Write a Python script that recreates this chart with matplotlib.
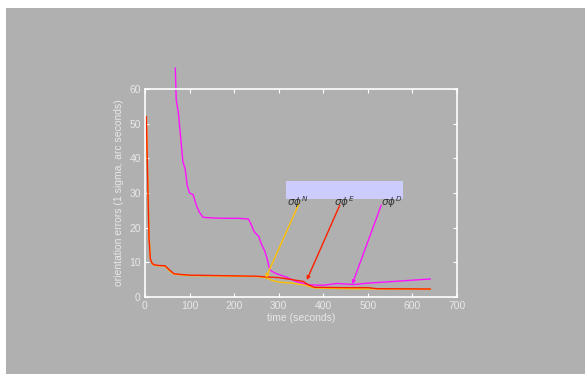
import matplotlib
matplotlib.use("Agg")
import matplotlib.pyplot as plt
from matplotlib.patches import Rectangle

# time (seconds) and 1-sigma orientation errors (arc seconds)
t_north = [3, 6, 9, 12, 16, 20, 30, 45, 55, 65, 80, 100, 150, 200, 250, 270, 285, 300, 330, 360, 380, 450, 520, 640]
s_north = [52, 35, 18, 11, 9.6, 9.2, 9.0, 8.9, 7.5, 6.6, 6.4, 6.2, 6.1, 6.0, 5.9, 5.6, 4.8, 4.3, 4.0, 3.4, 2.6, 2.4, 2.3, 2.2]

t_east = [3, 6, 9, 12, 16, 20, 30, 45, 55, 65, 80, 100, 150, 200, 250, 270, 300, 330, 355, 365, 380, 450, 500, 520, 640]
s_east = [52, 34, 17, 11, 9.7, 9.3, 9.1, 9.0, 7.8, 6.7, 6.5, 6.3, 6.2, 6.1, 6.0, 5.8, 5.6, 5.0, 4.5, 3.6, 2.8, 2.7, 2.7, 2.4, 2.3]

t_down = [68, 70, 75, 80, 85, 90, 95, 100, 108, 115, 122, 130, 150, 180, 210, 232, 238, 245, 255, 262, 268, 274, 280, 290, 300, 320, 340, 370, 400, 430, 470, 500, 560, 640]
s_down = [66, 57, 53, 46, 39, 37, 32, 30, 29.5, 26.5, 24.5, 23, 22.8, 22.7, 22.7, 22.5, 21, 18.8, 17.5, 15, 13.5, 11, 7.8, 7.0, 6.5, 5.6, 4.4, 3.5, 3.4, 3.9, 3.6, 4.0, 4.5, 5.2]

labels = [r"$\sigma\phi^N$", r"$\sigma\phi^E$", r"$\sigma\phi^D$"]
colors = ["#ffc000", "#ff2000", "#ff10ff"]
# where each label text starts, the top of its pointer line, and the curve point it hits
text_x = [318, 425, 529]
line_top = [(345, 26.8), (437, 26.5), (530, 26.5)]
point_xy = [(271, 5.5), (363, 4.9), (465, 3.7)]

bg = "#b0b0b0"
txt = "#e8e8e8"
plt.rcParams["font.family"] = ["Liberation Sans", "DejaVu Sans"]

fig = plt.figure(figsize=(5.85, 3.74), dpi=100)
fig.patch.set_facecolor("white")
fig.patches.append(Rectangle((6 / 585, 0), 1, (374 - 8) / 374, transform=fig.transFigure,
                             facecolor=bg, edgecolor="none", zorder=-10))

ax = fig.add_axes([145 / 585, 77 / 374, 312 / 585, 208 / 374])
ax.set_facecolor(bg)

ax.plot(t_north, s_north, color=colors[0], lw=1.0)
ax.plot(t_down, s_down, color=colors[2], lw=1.0, clip_on=False)
ax.plot(t_east, s_east, color=colors[1], lw=1.0)

ax.set_xlim(0, 700)
ax.set_ylim(0, 60)
ax.set_xticks(range(0, 701, 100))
ax.set_yticks(range(0, 61, 10))

for side in ax.spines.values():
    side.set_color("white")
    side.set_linewidth(1.2)
ax.tick_params(direction="in", length=3, color="white", labelcolor=txt, labelsize=7.5,
               top=True, right=True, pad=3)

ax.set_xlabel("time (seconds)", color=txt, fontsize=7.5, labelpad=1)
ax.set_ylabel("orientation errors (1 sigma, arc seconds)", color=txt, fontsize=7.5, labelpad=4)

# lavender box above the labels
ax.add_patch(Rectangle((316, 28.2), 263, 5.2, facecolor="#ccccff", edgecolor="none"))

for lab, c, tx, lxy, pxy in zip(labels, colors, text_x, line_top, point_xy):
    ax.annotate("", xy=pxy, xytext=lxy,
                arrowprops=dict(arrowstyle="-|>", color=c, lw=1.0, mutation_scale=5,
                                shrinkA=0, shrinkB=0))
    ax.text(tx, 29.6, lab, color="#303030", fontsize=7.5, ha="left", va="top")

fig.savefig("out.png", dpi=100, facecolor=fig.get_facecolor())
